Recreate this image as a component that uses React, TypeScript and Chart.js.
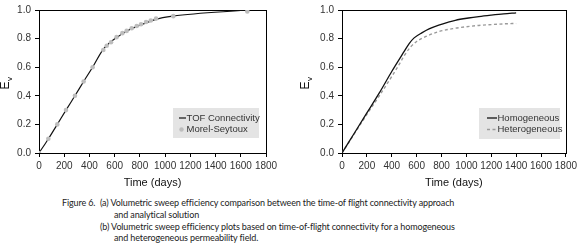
import React, { useEffect, useRef } from "react";
import { Chart, registerables } from "chart.js";
Chart.register(...registerables);

// ---- data (a) ----
const tofDays = [0, 75, 145, 214, 285, 354, 425, 505, 560, 620, 700, 800, 920, 1060, 1660];
const tofEv = [0, 0.1, 0.2, 0.3, 0.4, 0.5, 0.6, 0.72, 0.77, 0.81, 0.855, 0.893, 0.933, 0.957, 1.0];
const msDays = [0, 74, 145, 214, 285, 354, 425, 510, 537, 571, 615, 661, 695, 735, 775, 809, 849, 886, 928, 1065, 1652];
const msEv = [0, 0.1, 0.2, 0.3, 0.4, 0.5, 0.6, 0.72, 0.75, 0.775, 0.81, 0.838, 0.854, 0.872, 0.888, 0.9, 0.916, 0.927, 0.94, 0.957, 0.99];

// ---- data (b) ----
const homDays = [0, 100, 200, 300, 400, 500, 540, 580, 645, 700, 778, 850, 911, 1017, 1100, 1200, 1300, 1400];
const homEv = [0, 0.14, 0.28, 0.42, 0.57, 0.71, 0.765, 0.805, 0.842, 0.868, 0.895, 0.914, 0.928, 0.944, 0.954, 0.964, 0.973, 0.98];
const hetDays = [0, 100, 200, 300, 400, 450, 500, 550, 600, 675, 775, 900, 1000, 1100, 1200, 1300, 1400];
const hetEv = [0, 0.135, 0.27, 0.4, 0.535, 0.605, 0.68, 0.74, 0.78, 0.815, 0.848, 0.871, 0.883, 0.892, 0.898, 0.903, 0.906];

// ---- ticks / labels ----
const xTicks = [0, 200, 400, 600, 800, 1000, 1200, 1400, 1600, 1800];
const yTicks = [0, 0.1, 0.2, 0.3, 0.4, 0.5, 0.6, 0.7, 0.8, 0.9, 1.0];
const xTitle = "Time (days)";
const yTitleMain = "E";
const yTitleSub = "v";
const labelsA = ["TOF Connectivity", "Morel-Seytoux"];
const labelsB = ["Homogeneous", "Heterogeneous"];

const FONT = "'Liberation Sans', Arial, sans-serif";
const toXY = (xs: number[], ys: number[]) => xs.map((x, i) => ({ x, y: ys[i] }));

const framePlugin = {
  id: "frame",
  beforeDatasetsDraw(chart: any) {
    const { ctx, chartArea: a } = chart;
    ctx.save();
    ctx.strokeStyle = "#000";
    ctx.lineWidth = 1;
    ctx.strokeRect(Math.round(a.left) + 0.5, Math.round(a.top) + 0.5, Math.round(a.right - a.left), Math.round(a.bottom - a.top));
    ctx.restore();
  },
};

const yTitlePlugin = {
  id: "yTitleSub",
  afterDraw(chart: any, _args: any, opts: any) {
    const { ctx, chartArea: a } = chart;
    ctx.save();
    ctx.translate(opts.x, (a.top + a.bottom) / 2 + 8);
    ctx.rotate(-Math.PI / 2);
    ctx.fillStyle = "#111";
    ctx.textBaseline = "middle";
    ctx.textAlign = "left";
    ctx.font = `12px ${FONT}`;
    ctx.fillText(yTitleMain, 0, 0);
    const w = ctx.measureText(yTitleMain).width;
    ctx.font = `8px ${FONT}`;
    ctx.fillText(yTitleSub, w + 0.5, 3.5);
    ctx.restore();
  },
};

const boxLegendPlugin = {
  id: "boxLegend",
  afterDraw(chart: any, _args: any, opts: any) {
    const { ctx } = chart;
    ctx.save();
    ctx.fillStyle = "#e4e4e4";
    ctx.fillRect(opts.x, opts.y, opts.w, opts.h);
    ctx.font = `9.5px ${FONT}`;
    ctx.textBaseline = "middle";
    ctx.textAlign = "left";
    const ds = chart.data.datasets;
    opts.items.forEach((idx: number, i: number) => {
      const d = ds[idx];
      const cy = opts.y + 10 + i * 11.5;
      const sx = opts.x + opts.symX;
      if (d.showLine === false) {
        ctx.fillStyle = d.backgroundColor;
        ctx.beginPath();
        ctx.arc(sx + opts.symW / 2 - 1, cy, 2.2, 0, Math.PI * 2);
        ctx.fill();
      } else {
        ctx.strokeStyle = d.borderColor;
        ctx.lineWidth = d.borderWidth;
        ctx.setLineDash(d.borderDash || []);
        ctx.beginPath();
        ctx.moveTo(sx, cy);
        ctx.lineTo(sx + opts.symW, cy);
        ctx.stroke();
        ctx.setLineDash([]);
      }
      ctx.fillStyle = "#333";
      ctx.fillText(d.label, sx + opts.symW + 0.5, cy);
    });
    ctx.restore();
  },
};

function makeOptions(yAxisWidth: number, rightPad: number, yTitleX: number, legend: any) {
  const tickFont = { family: FONT, size: 10 };
  return {
    responsive: false,
    animation: false as const,
    layout: { padding: { left: 0, top: 7, right: rightPad, bottom: 0 } },
    plugins: {
      legend: { display: false },
      tooltip: { enabled: false },
      yTitleSub: { x: yTitleX },
      boxLegend: legend,
    },
    scales: {
      x: {
        type: "linear" as const,
        min: 0,
        max: 1800,
        afterBuildTicks: (s: any) => { s.ticks = xTicks.map((v) => ({ value: v })); },
        afterFit: (s: any) => { s.height = 39; },
        ticks: { font: tickFont, color: "#333", padding: 3, maxRotation: 0, autoSkip: false, callback: (v: any) => String(v) },
        grid: { drawOnChartArea: false, drawTicks: true, tickLength: 4, color: "#000" },
        border: { display: true, color: "#000" },
        title: { display: true, text: xTitle, color: "#111", font: { family: FONT, size: 11 }, padding: { top: 0, bottom: 2 } },
      },
      y: {
        type: "linear" as const,
        min: 0,
        max: 1,
        afterBuildTicks: (s: any) => { s.ticks = yTicks.map((v) => ({ value: v })); },
        afterFit: (s: any) => { s.width = yAxisWidth; },
        ticks: { font: tickFont, color: "#333", padding: 4, callback: (v: any) => Number(v).toFixed(1) },
        grid: { drawOnChartArea: false, drawTicks: true, tickLength: 4, color: "#000" },
        border: { display: true, color: "#000" },
      },
    },
  };
}

function ChartA() {
  const ref = useRef<HTMLCanvasElement>(null);
  useEffect(() => {
    const chart = new Chart(ref.current!, {
      type: "scatter",
      data: {
        datasets: [
          {
            label: labelsA[0],
            data: toXY(tofDays, tofEv),
            showLine: true,
            borderColor: "#111",
            borderWidth: 1.2,
            pointRadius: 0,
            cubicInterpolationMode: "monotone",
            order: 2,
          } as any,
          {
            label: labelsA[1],
            data: toXY(msDays, msEv),
            showLine: false,
            backgroundColor: "#bdbdbd",
            borderWidth: 0,
            pointRadius: 2.3,
            order: 1,
          },
        ],
      },
      options: makeOptions(39, 24, 6, { x: 173, y: 108, w: 86, h: 30, symX: 6, symW: 7, items: [0, 1] }) as any,
      plugins: [framePlugin, yTitlePlugin, boxLegendPlugin],
    });
    return () => chart.destroy();
  }, []);
  return <canvas ref={ref} width={290} height={192} style={{ position: "absolute", left: 0, top: 0 }} />;
}

function ChartB() {
  const ref = useRef<HTMLCanvasElement>(null);
  useEffect(() => {
    const chart = new Chart(ref.current!, {
      type: "scatter",
      data: {
        datasets: [
          {
            label: labelsB[0],
            data: toXY(homDays, homEv),
            showLine: true,
            borderColor: "#111",
            borderWidth: 1.3,
            pointRadius: 0,
            cubicInterpolationMode: "monotone",
            order: 1,
          } as any,
          {
            label: labelsB[1],
            data: toXY(hetDays, hetEv),
            showLine: true,
            borderColor: "#9a9a9a",
            borderWidth: 1.4,
            borderDash: [3, 2.5],
            pointRadius: 0,
            cubicInterpolationMode: "monotone",
            order: 2,
          } as any,
        ],
      },
      options: makeOptions(52, 11, 16, { x: 189, y: 108, w: 81, h: 31, symX: 8, symW: 10, items: [0, 1] }) as any,
      plugins: [framePlugin, yTitlePlugin, boxLegendPlugin],
    });
    return () => chart.destroy();
  }, []);
  return <canvas ref={ref} width={290} height={192} style={{ position: "absolute", left: 290, top: 0 }} />;
}

const capStyle: React.CSSProperties = {
  position: "absolute",
  whiteSpace: "nowrap",
  fontFamily: "Lato, 'Noto Sans', sans-serif",
  fontSize: "9px",
  letterSpacing: "-0.12px",
  color: "#222",
  lineHeight: "12px",
};

export default function App() {
  useEffect(() => {
    document.body.style.margin = "0";
  }, []);
  return (
    <div style={{ position: "relative", width: 580, height: 248, background: "#fff", overflow: "hidden" }}>
      <ChartA />
      <ChartB />
      <div style={{ ...capStyle, left: 62, top: 197 }}>Figure 6.</div>
      <div style={{ ...capStyle, left: 100, top: 197 }}>(a) Volumetric sweep efficiency comparison between the time-of flight connectivity approach</div>
      <div style={{ ...capStyle, left: 114, top: 209 }}>and analytical solution</div>
      <div style={{ ...capStyle, left: 100, top: 221 }}>(b) Volumetric sweep efficiency plots based on time-of-flight connectivity for a homogeneous</div>
      <div style={{ ...capStyle, left: 114, top: 232 }}>and heterogeneous permeability field.</div>
    </div>
  );
}
